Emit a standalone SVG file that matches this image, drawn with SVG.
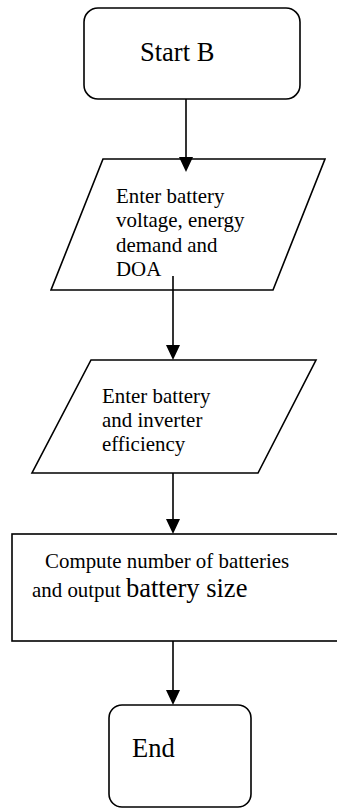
<svg xmlns="http://www.w3.org/2000/svg" width="337" height="809" viewBox="0 0 337 809">
<defs>
<style>
.shape{fill:#fff;stroke:#000;stroke-width:1.6}
.conn{stroke:#000;stroke-width:1.6;fill:none}
.head{fill:#000}
.t{font-family:"Liberation Serif","Times New Roman",serif;font-size:20.9px;fill:#000}
.big{font-family:"Liberation Serif","Times New Roman",serif;font-size:26.5px;fill:#000}
</style>
</defs>
<rect width="337" height="809" fill="#fff"/>
<g id="start">
<rect class="shape" x="84" y="8" width="216" height="91" rx="14"/>
<text class="big" x="140" y="61">Start B</text>
</g>
<g id="input1">
<polygon class="shape" points="103,159 325,159 273,290 51,290"/>
<text class="t" x="116" y="203">Enter battery</text>
<text class="t" x="116" y="227">voltage, energy</text>
<text class="t" x="116" y="252">demand and</text>
<text class="t" x="116" y="276">DOA</text>
</g>
<g id="input2">
<polygon class="shape" points="91,360 316,360 258,473 32,473"/>
<text class="t" x="102" y="403">Enter battery</text>
<text class="t" x="102" y="427">and inverter</text>
<text class="t" x="102" y="451">efficiency</text>
</g>
<g id="compute">
<rect class="shape" x="12" y="534" width="330" height="107"/>
<text class="t" x="45" y="568">Compute number of batteries</text>
<text x="32" y="597"><tspan class="t">and output </tspan><tspan class="big">battery size</tspan></text>
</g>
<g id="end">
<rect class="shape" x="109" y="705" width="142" height="102" rx="13"/>
<text class="big" x="132" y="757">End</text>
</g>
<g id="connectors">
<line class="conn" x1="186" y1="99" x2="186" y2="157"/>
<path class="head" d="M179,157 L193,157 L186,172 Z"/>
<line class="conn" x1="173" y1="276" x2="173" y2="345"/>
<path class="head" d="M166,345 L180,345 L173,360 Z"/>
<line class="conn" x1="173" y1="473" x2="173" y2="519"/>
<path class="head" d="M166,519 L180,519 L173,534 Z"/>
<line class="conn" x1="173" y1="641" x2="173" y2="690"/>
<path class="head" d="M166,690 L180,690 L173,705 Z"/>
</g>
</svg>
